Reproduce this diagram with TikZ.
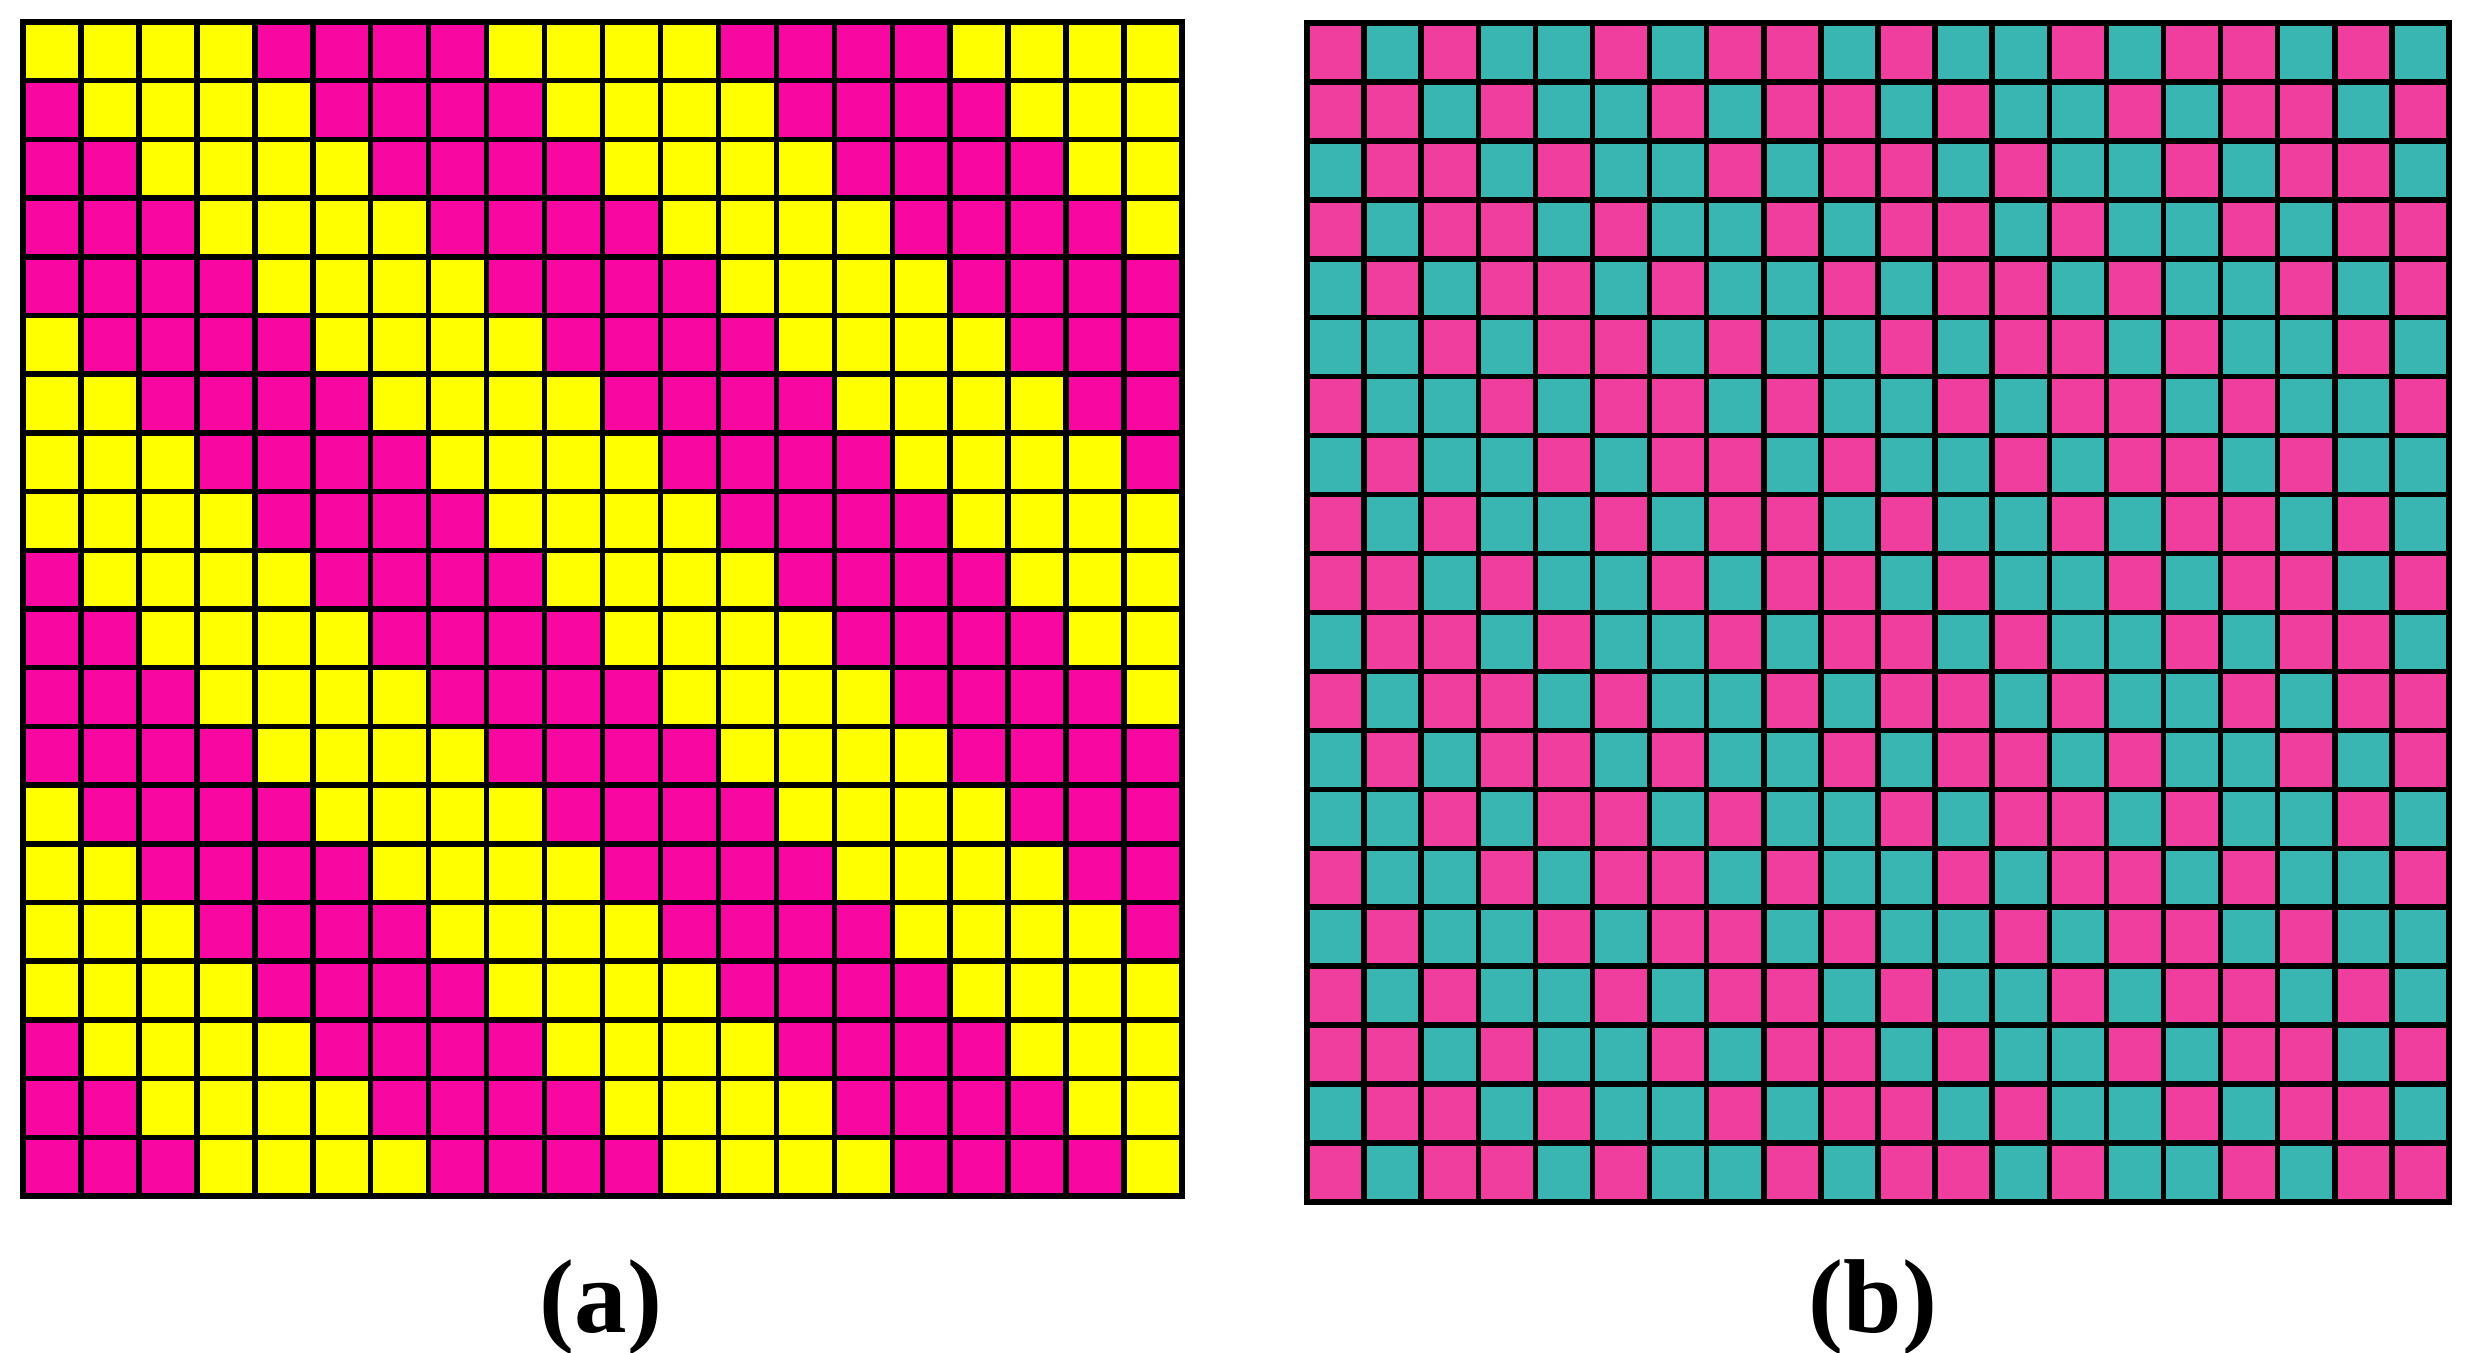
\documentclass[tikz,border=0pt]{standalone}
\usepackage{fontspec}
\setmainfont{Liberation Serif}
\definecolor{yel}{HTML}{FFFF00}
\definecolor{mag}{HTML}{F808A0}
\definecolor{pnk}{HTML}{F03E9E}
\definecolor{tea}{HTML}{3AB6B2}
\begin{document}
\begin{tikzpicture}[x=0.2pt,y=-0.2pt,
  gridline/.style={line width=1.1pt, black, line cap=rect},
  lab/.style={font=\fontsize{21}{25}\selectfont\bfseries, inner sep=0pt, anchor=base}]
\useasboundingbox (0,0) rectangle (2481,1353);
% ---- left grid (a)
\foreach \r in {0,...,19}{
  \foreach \c in {0,...,19}{
    \pgfmathtruncatemacro{\k}{mod(\c-\r+80,8)}
    \ifnum\k<4 \def\cc{yel}\else\def\cc{mag}\fi
    \fill[\cc] ({23+\c*57.95},{22+\r*58.7}) rectangle ++(57.95,58.7);
  }}
\foreach \i in {0,...,20}{
  \draw[gridline] ({23+\i*57.95},22) -- ({23+\i*57.95},1196);
  \draw[gridline] (23,{22+\i*58.7}) -- (1182,{22+\i*58.7});
}
% ---- right grid (b)
\foreach \r in {0,...,19}{
  \foreach \c in {0,...,19}{
    \pgfmathtruncatemacro{\k}{mod(\c-\r+80,8)}
    \edef\cc{\ifcase\k pnk\or tea\or pnk\or tea\or tea\or pnk\or tea\or pnk\fi}
    \fill[\cc] ({1307+\c*57.1},{23+\r*58.95}) rectangle ++(57.1,58.95);
  }}
\foreach \i in {0,...,20}{
  \draw[gridline] ({1307+\i*57.1},23) -- ({1307+\i*57.1},1202);
  \draw[gridline] (1307,{23+\i*58.95}) -- (2449,{23+\i*58.95});
}
\node[lab] (la) at (601,1333) {(a)};
\node[lab] (lb) at (1873,1333) {(b)};
\end{tikzpicture}
\end{document}
